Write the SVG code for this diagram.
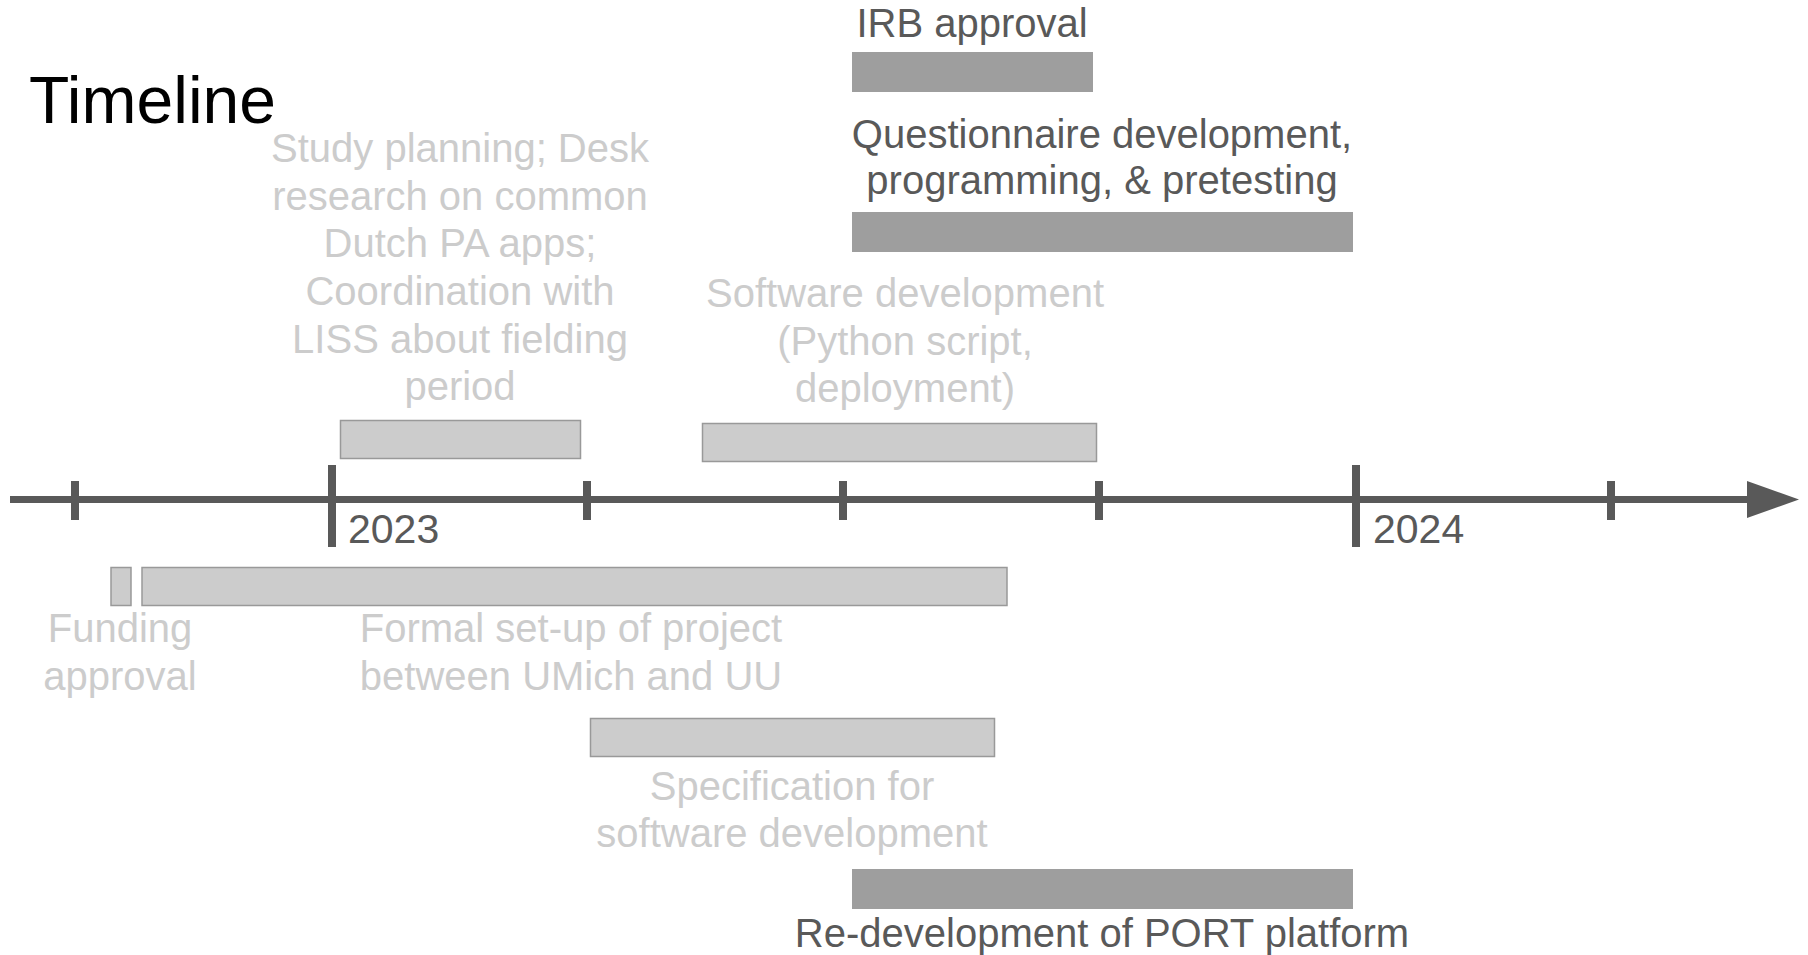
<svg xmlns="http://www.w3.org/2000/svg" width="1808" height="955" viewBox="0 0 1808 955">
<style>
  text { font-family: "Liberation Sans", Arial, sans-serif; font-size: 40px; text-anchor: middle; }
  .dark { fill: #595959; }
  .light { fill: #cccccc; }
  .barL { fill: #cccccc; stroke: #999999; stroke-width: 1.5; }
  .barD { fill: #9e9e9e; }
  .axis { stroke: #595959; stroke-width: 7; fill: none; }
  .tick { stroke: #595959; stroke-width: 8; }
</style>
<rect width="1808" height="955" fill="#ffffff"/>
<text id="title" x="29" y="123" style="font-size:66px;text-anchor:start;fill:#000000">Timeline</text>
<g id="connectors">
  <line class="axis" x1="10" y1="499.5" x2="1752" y2="499.5"/>
  <polygon points="1747,481 1799,499.5 1747,518" fill="#595959"/>
  <line class="tick" x1="75" y1="481" x2="75" y2="520"/>
  <line class="tick" x1="332" y1="465" x2="332" y2="547"/>
  <line class="tick" x1="587" y1="481" x2="587" y2="520"/>
  <line class="tick" x1="843" y1="481" x2="843" y2="520"/>
  <line class="tick" x1="1099" y1="481" x2="1099" y2="520"/>
  <line class="tick" x1="1356" y1="465" x2="1356" y2="547"/>
  <line class="tick" x1="1611" y1="481" x2="1611" y2="520"/>
</g>
<g id="year2023"><text class="dark" x="348" y="543" style="text-anchor:start;font-size:41px">2023</text></g>
<g id="year2024"><text class="dark" x="1373" y="543" style="text-anchor:start;font-size:41px">2024</text></g>
<g id="irb">
  <rect class="barD" x="852" y="52" width="241" height="40"/>
  <text class="dark" x="972" y="37">IRB approval</text>
</g>
<g id="questionnaire">
  <rect class="barD" x="852" y="212" width="501" height="40"/>
  <text class="dark" x="1102" y="148">Questionnaire development,</text>
  <text class="dark" x="1102" y="194">programming, &amp; pretesting</text>
</g>
<g id="study">
  <rect class="barL" x="340.5" y="420.5" width="240" height="38"/>
  <text class="light" x="460" y="162">Study planning; Desk</text>
  <text class="light" x="460" y="210">research on common</text>
  <text class="light" x="460" y="257">Dutch PA apps;</text>
  <text class="light" x="460" y="305">Coordination with</text>
  <text class="light" x="460" y="353">LISS about fielding</text>
  <text class="light" x="460" y="400">period</text>
</g>
<g id="software">
  <rect class="barL" x="702.5" y="423.5" width="394" height="38"/>
  <text class="light" x="905" y="307">Software development</text>
  <text class="light" x="905" y="355">(Python script,</text>
  <text class="light" x="905" y="402">deployment)</text>
</g>
<g id="funding">
  <rect class="barL" x="111" y="567.5" width="20" height="38"/>
  <text class="light" x="120" y="642">Funding</text>
  <text class="light" x="120" y="690">approval</text>
</g>
<g id="formal">
  <rect class="barL" x="142" y="567.5" width="865" height="38"/>
  <text class="light" x="571" y="642">Formal set-up of project</text>
  <text class="light" x="571" y="690">between UMich and UU</text>
</g>
<g id="spec">
  <rect class="barL" x="590.5" y="718.5" width="404" height="38"/>
  <text class="light" x="792" y="800">Specification for</text>
  <text class="light" x="792" y="847">software development</text>
</g>
<g id="port">
  <rect class="barD" x="852" y="869" width="501" height="40"/>
  <text class="dark" x="1102" y="947">Re-development of PORT platform</text>
</g>
</svg>
